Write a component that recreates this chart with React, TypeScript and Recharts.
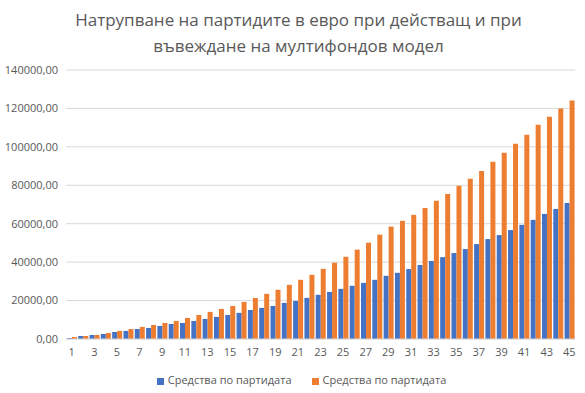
import React from "react";
import { BarChart, Bar, XAxis, YAxis, CartesianGrid, Legend } from "recharts";

const years = Array.from({ length: 45 }, (_, i) => String(i + 1));

// current model
const blueValues = [
  520, 1570, 2100, 2600, 3650, 4200, 5200, 5750, 6800, 7800,
  8350, 9400, 10450, 11500, 12500, 13600, 15100, 16200, 17200, 18800,
  19800, 21400, 23000, 24500, 26100, 27700, 29200, 30800, 32900, 34450,
  36400, 38500, 40600, 42600, 44700, 46800, 49400, 52000, 54100, 56700,
  59400, 62000, 65100, 67700, 70800,
];

// multifund model
const orangeValues = [
  1040, 1570, 2100, 3100, 4200, 5200, 6300, 7300, 8350, 9400,
  10950, 12500, 14100, 15650, 17200, 19300, 21400, 23500, 25600, 28200,
  30800, 33400, 36500, 39700, 42800, 46500, 50100, 54300, 58500, 61500,
  64600, 68200, 71900, 75500, 79700, 83400, 87500, 92200, 96900, 101600,
  106300, 111500, 115700, 119900, 124100,
];

const yTicks = [0, 20000, 40000, 60000, 80000, 100000, 120000, 140000];

const titleLines = [
  "Натрупване на партидите в евро при действащ и при",
  "въвеждане на мултифондов модел",
];

const seriesName = "Средства по партидата";

const data = years.map((y, i) => ({ year: y, a: blueValues[i], b: orangeValues[i] }));

const fmt = (v: number) => v.toFixed(2).replace(".", ",");

export default function App() {
  return (
    <div
      style={{
        position: "absolute",
        left: 0,
        top: 0,
        width: 585,
        height: 393,
        background: "#fff",
        fontFamily: "'Open Sans', sans-serif",
      }}
    >
      <div
        style={{
          position: "absolute",
          top: 7,
          left: 0,
          width: 597,
          textAlign: "center",
          color: "#595959",
          fontSize: 17,
          lineHeight: "26px",
        }}
      >
        {titleLines.map((t) => (
          <div key={t}>{t}</div>
        ))}
      </div>
      <BarChart
        width={585}
        height={393}
        data={data}
        margin={{ top: 70, right: 10, bottom: 6, left: 0 }}
        barGap={0}
        barCategoryGap="8%"
      >
        <CartesianGrid vertical={false} stroke="#d9d9d9" />
        <XAxis
          dataKey="year"
          interval={1}
          height={33}
          tickLine={false}
          axisLine={{ stroke: "#d9d9d9" }}
          tick={{ fill: "#595959", fontSize: 11 }}
          tickMargin={3}
        />
        <YAxis
          width={66}
          domain={[0, 140000]}
          ticks={yTicks}
          tickFormatter={fmt}
          axisLine={false}
          tickLine={false}
          tick={{ fill: "#595959", fontSize: 11 }}
        />
        <Legend
          iconType="square"
          iconSize={7}
          wrapperStyle={{ fontSize: 11, color: "#595959", paddingLeft: 24 }}
          formatter={(v) => <span style={{ color: "#595959", marginRight: 10 }}>{v}</span>}
        />
        <Bar dataKey="a" name={seriesName} fill="#4472C4" isAnimationActive={false} />
        <Bar dataKey="b" name={seriesName} fill="#ED7D31" isAnimationActive={false} />
      </BarChart>
    </div>
  );
}
